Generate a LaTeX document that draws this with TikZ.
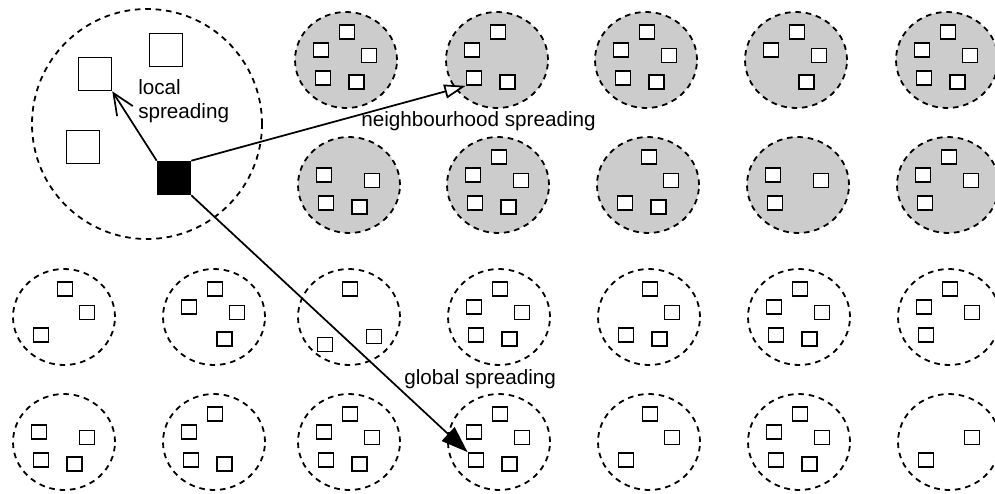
\documentclass[tikz,border=0pt]{standalone}
\usepackage{fontspec}
\setmainfont{Liberation Sans}
\usetikzlibrary{arrows.meta,calc,shapes.geometric}
\tikzset{
	zone/.style={draw, dash pattern=on 4.2pt off 3.6pt, line width=1.35pt, inner sep=0pt},
	homezone/.style={zone, circle, minimum size=172.5pt},
	greyzone/.style={zone, ellipse, fill=black!20, minimum width=76.5pt, minimum height=72pt},
	whitezone/.style={zone, ellipse, minimum width=76.5pt, minimum height=72pt},
	cell/.style={draw, fill=white, line width=1.3pt, minimum width=11.25pt, minimum height=10.5pt, inner sep=0pt},
	bigcell/.style={draw, fill=white, line width=1.2pt, minimum size=24.75pt, inner sep=0pt},
	spreadtext/.style={font=\fontsize{15.5}{18}\selectfont, align=left, anchor=west, inner sep=0pt},
	spread/.style={line width=1.3pt}
}

\begin{document}
\begin{tikzpicture}[x=0.75pt, y=-0.75pt]
	\useasboundingbox (0,0) rectangle (995,493);
	\node[homezone] (home) at (147,124) {};
	\node[bigcell] (a) at (95,74) {};
	\node[bigcell] (b) at (166,50) {};
	\node[bigcell] (c) at (83,147) {};
	\node[bigcell, fill=black] (src) at (174,178) {};
	\foreach \n/\cx/\cy/\st/\cells in {
			g11/346/60/greyzone/{1/-28,-25/-10,23/-4.5,-23/18,10.5/22},
			g12/497/60/greyzone/{1/-28,-25/-10,-23/18,10.5/22},
			g13/646/60/greyzone/{1/-28,-25/-10,23/-4.5,-23/18,10.5/22},
			g14/796/60/greyzone/{1/-28,-25/-10,23/-4.5,10.5/22},
			g15/947/60/greyzone/{1/-28,-25/-10,23/-4.5,-23/18,10.5/22},
			g21/349/185/greyzone/{-25/-10,23/-4.5,-23/18,10.5/22},
			g22/498/185/greyzone/{1/-28,-25/-10,23/-4.5,-23/18,10.5/22},
			g23/648/185/greyzone/{1/-28,23/-4.5,-23/18,10.5/22},
			g24/798/185/greyzone/{-25/-10,23/-4.5,-23/18},
			g25/948/185/greyzone/{1/-28,-25/-10,23/-4.5,-23/18},
			w31/64/317/whitezone/{1/-28,23/-4.5,-23/18},
			w32/214/317/whitezone/{1/-28,-25/-10,23/-4.5,10.5/22},
			w33/349/317/whitezone/{1/-28,25/19.5,-24/27.5},
			w34/499/317/whitezone/{1/-28,-25/-10,23/-4.5,-23/18,10.5/22},
			w35/649/317/whitezone/{1/-28,23/-4.5,-23/18,10.5/22},
			w36/799/317/whitezone/{1/-28,-25/-10,23/-4.5,-23/18,10.5/22},
			w37/949/317/whitezone/{1/-28,-25/-10,23/-4.5,-23/18},
			w41/64/442/whitezone/{-25/-10,23/-4.5,-23/18,10.5/22},
			w42/214/442/whitezone/{1/-28,-25/-10,-23/18,10.5/22},
			w43/349/442/whitezone/{1/-28,-25/-10,23/-4.5,-23/18,10.5/22},
			w44/499/442/whitezone/{1/-28,-25/-10,23/-4.5,-23/18,10.5/22},
			w45/649/442/whitezone/{1/-28,23/-4.5,-23/18},
			w46/799/442/whitezone/{1/-28,-25/-10,23/-4.5,-23/18,10.5/22},
			w47/949/442/whitezone/{23/-4.5,-23/18}}{
		\node[\st] (\n) at (\cx,\cy) {};
		\foreach \dx/\dy [count=\i] in \cells
			\node[cell] (\n-\i) at ($(\n)+(\dx,\dy)$) {};
	}
	\draw[spread, -{Straight Barb[length=16pt, width=14pt]}] (src.north west) -- (a.south east);
	\draw[spread, -{Triangle[length=16pt, width=10.5pt, fill=white]}] (src.north east) -- (g12-3.south west);
	\draw[spread, -{Triangle[length=20pt, width=14pt]}] (src.south east) -- (w44-4.north west);
	\node[spreadtext] (lsl) at (138,101) {local\\spreading};
	\node[spreadtext] (nsl) at (361,121) {neighbourhood spreading};
	\node[spreadtext] (gsl) at (404,379) {global spreading};
\end{tikzpicture}
\end{document}
